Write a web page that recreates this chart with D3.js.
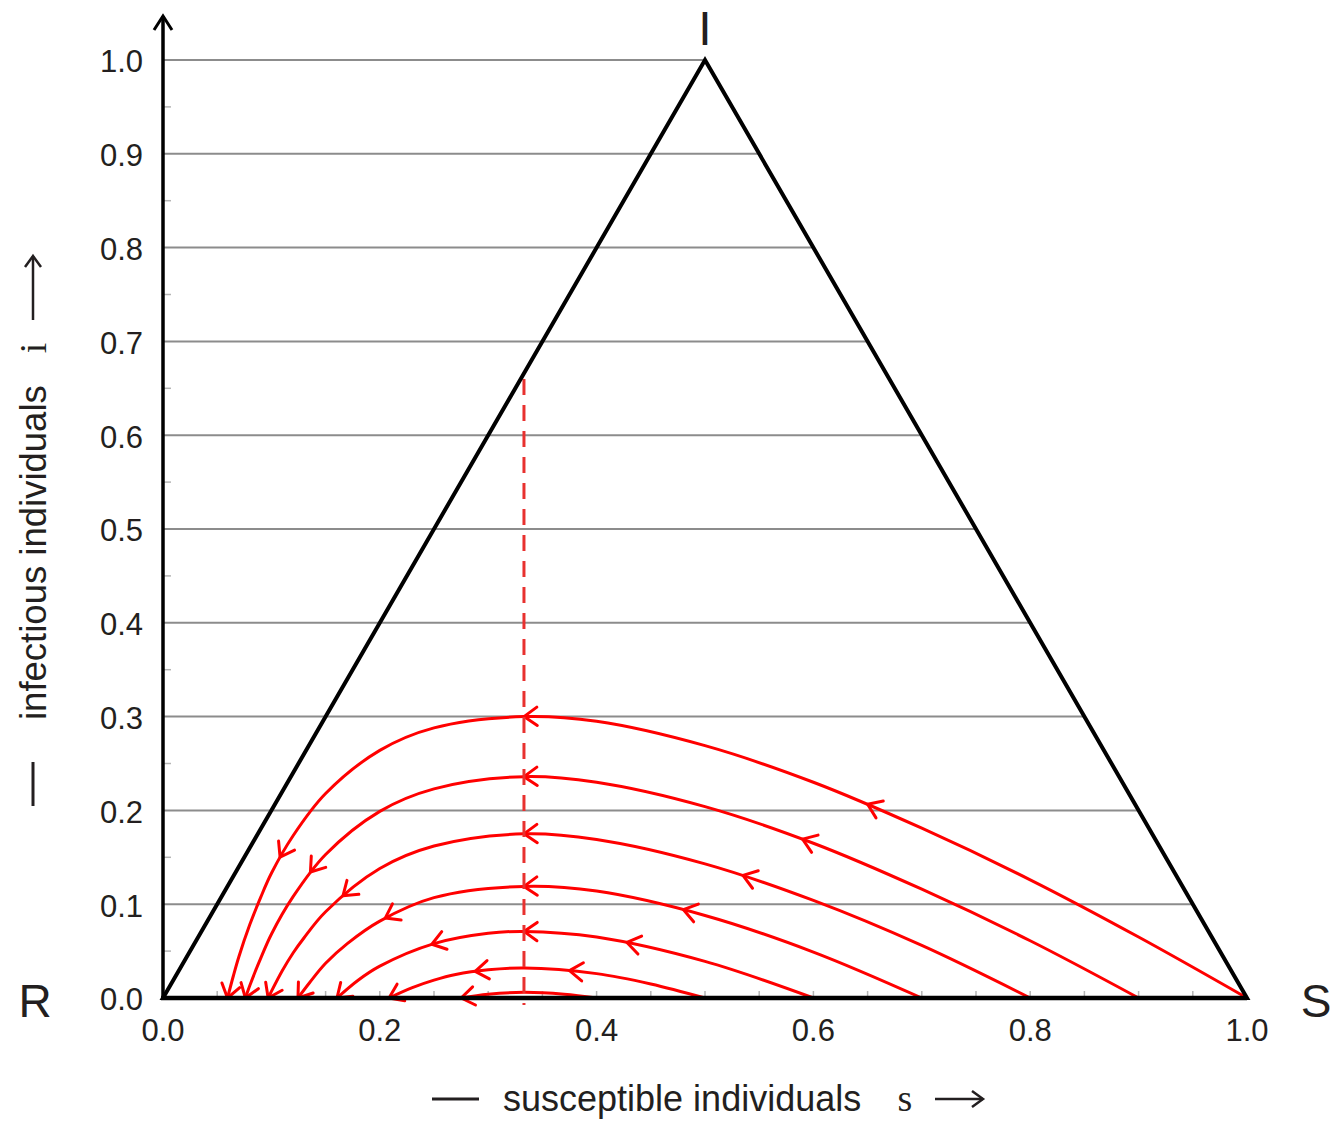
<!DOCTYPE html>
<html>
<head>
<meta charset="utf-8">
<script src="https://cdn.jsdelivr.net/npm/d3@7"></script>
<style>
body { margin: 0; background: #fff; }
text { font-family: "Liberation Sans", Arial, sans-serif; fill: #231f20; }
</style>
</head>
<body>
<div id="chart"></div>
<script>
// trajectories, points as [s, i], running from start to end
var curve10 = [[1.0,0],[0.9,0.065],[0.8,0.126],[0.7,0.181],[0.6,0.230],[0.5,0.269],[0.4,0.295],[0.333,0.300],[0.25,0.288],[0.2,0.264],[0.15,0.218],[0.12,0.173],[0.1,0.133],[0.09,0.107],[0.08,0.078],[0.07,0.044],[0.065,0.024],[0.0595,0]];
var curve09 = [[0.9,0],[0.8,0.061],[0.7,0.116],[0.6,0.165],[0.5,0.204],[0.4,0.230],[0.333,0.236],[0.25,0.223],[0.2,0.199],[0.15,0.153],[0.12,0.108],[0.1,0.068],[0.09,0.042],[0.085,0.028],[0.08,0.013],[0.076,0]];
var curve08 = [[0.8,0],[0.7,0.056],[0.6,0.104],[0.5,0.143],[0.4,0.169],[0.333,0.175],[0.25,0.162],[0.2,0.138],[0.15,0.092],[0.13,0.064],[0.12,0.048],[0.11,0.029],[0.1,0.007],[0.097,0]];
var curve07 = [[0.7,0],[0.6,0.049],[0.5,0.088],[0.4,0.114],[0.333,0.119],[0.25,0.107],[0.2,0.082],[0.17,0.058],[0.15,0.037],[0.135,0.016],[0.1245,0]];
var curve06 = [[0.6,0],[0.5,0.039],[0.4,0.065],[0.333,0.071],[0.3,0.069],[0.25,0.058],[0.2,0.034],[0.18,0.019],[0.1605,0]];
var curve05 = [[0.5,0],[0.45,0.015],[0.4,0.026],[0.333,0.032],[0.3,0.030],[0.27,0.025],[0.25,0.019],[0.23,0.011],[0.2085,0]];
var curve04 = [[0.4,0],[0.37,0.004],[0.333,0.006],[0.3,0.004],[0.275,0]];
var trajectories = [curve10, curve09, curve08, curve07, curve06, curve05, curve04];

// s positions of the arrow heads on each trajectory
var arrows10 = [0.65, 0.333, 0.108, 0.0595];
var arrows09 = [0.59, 0.333, 0.136, 0.076];
var arrows08 = [0.535, 0.333, 0.166, 0.097];
var arrows07 = [0.48, 0.333, 0.205, 0.1245];
var arrows06 = [0.428, 0.333, 0.248, 0.1605];
var arrows05 = [0.375, 0.288, 0.2085];
var arrows04 = [0.275];
var arrowSets = [arrows10, arrows09, arrows08, arrows07, arrows06, arrows05, arrows04];

var threshold = 0.333;   // s where every i peaks
var thresholdTop = 0.66;

var yTicks = [0.0, 0.1, 0.2, 0.3, 0.4, 0.5, 0.6, 0.7, 0.8, 0.9, 1.0];
var xTicks = [0.0, 0.2, 0.4, 0.6, 0.8, 1.0];
var yMinor = [0.05, 0.15, 0.25, 0.35, 0.45, 0.55, 0.65, 0.75, 0.85, 0.95];
var xMinor = [0.05, 0.1, 0.15, 0.2, 0.25, 0.3, 0.35, 0.4, 0.45, 0.5, 0.55, 0.6, 0.65, 0.7, 0.75, 0.8, 0.85, 0.9, 0.95];

var width = 1337,
    height = 1121;

var svg = d3.select("#chart").append("svg")
    .attr("width", width)
    .attr("height", height);

var x = d3.scaleLinear().domain([0, 1]).range([163, 1247]);
var y = d3.scaleLinear().domain([0, 1]).range([998, 60]);

// grid lines stop at the right side of the triangle
svg.append("g").selectAll("line")
    .data(yTicks.filter(function(d) { return d > 0; }))
  .enter().append("line")
    .attr("x1", x(0))
    .attr("x2", function(d) { return x(1 - d / 2); })
    .attr("y1", function(d) { return y(d); })
    .attr("y2", function(d) { return y(d); })
    .attr("stroke", "#8c8c8c")
    .attr("stroke-width", 2);

// small ticks
svg.append("g").selectAll("line")
    .data(yMinor)
  .enter().append("line")
    .attr("x1", x(0)).attr("x2", x(0) + 8)
    .attr("y1", function(d) { return y(d); })
    .attr("y2", function(d) { return y(d); })
    .attr("stroke", "#b5b5b5")
    .attr("stroke-width", 1.5);

svg.append("g").selectAll("line")
    .data(xMinor)
  .enter().append("line")
    .attr("x1", function(d) { return x(d); })
    .attr("x2", function(d) { return x(d); })
    .attr("y1", y(0)).attr("y2", y(0) - 7)
    .attr("stroke", "#b5b5b5")
    .attr("stroke-width", 1.5);

// trajectories
var line = d3.line()
    .x(function(d) { return x(d[0]); })
    .y(function(d) { return y(d[1]); })
    .curve(d3.curveCatmullRom.alpha(0.5));

var paths = svg.append("g").selectAll("path")
    .data(trajectories)
  .enter().append("path")
    .attr("d", line)
    .attr("fill", "none")
    .attr("stroke", "#ff0000")
    .attr("stroke-width", 3);

// arrow heads: find the point on the path whose x matches s, point along the path
function arrowAt(node, s) {
  var total = node.getTotalLength();
  var target = x(s), lo = 0, hi = total;
  for (var k = 0; k < 40; k++) {
    var mid = (lo + hi) / 2;
    if (node.getPointAtLength(mid).x > target) lo = mid; else hi = mid;
  }
  var l = Math.min((lo + hi) / 2, total);
  var tip = node.getPointAtLength(l);
  var prev = node.getPointAtLength(Math.max(l - 4, 0));
  var dx = tip.x - prev.x, dy = tip.y - prev.y;
  var n = Math.sqrt(dx * dx + dy * dy);
  dx /= n; dy /= n;
  var a = 35 * Math.PI / 180, len = 16;
  var arms = [a, -a].map(function(t) {
    var bx = -dx, by = -dy;
    return [tip.x + len * (bx * Math.cos(t) - by * Math.sin(t)),
            tip.y + len * (bx * Math.sin(t) + by * Math.cos(t))];
  });
  return "M" + arms[0] + "L" + tip.x + "," + tip.y + "L" + arms[1];
}

var heads = svg.append("g");
paths.each(function(d, i) {
  var node = this;
  arrowSets[i].forEach(function(s) {
    heads.append("path")
      .attr("d", arrowAt(node, s))
      .attr("fill", "none")
      .attr("stroke", "#ff0000")
      .attr("stroke-width", 3)
      .attr("stroke-linecap", "round")
      .attr("stroke-linejoin", "round");
  });
});

// threshold line
svg.append("line")
    .attr("x1", x(threshold)).attr("x2", x(threshold))
    .attr("y1", y(thresholdTop)).attr("y2", y(0) + 7)
    .attr("stroke", "#e8312f")
    .attr("stroke-width", 3)
    .attr("stroke-dasharray", "16,10");

// triangle
svg.append("path")
    .attr("d", "M" + x(0) + "," + y(0) + "L" + x(0.5) + "," + y(1) + "L" + x(1) + "," + y(0) + "Z")
    .attr("fill", "none")
    .attr("stroke", "#000")
    .attr("stroke-width", 4)
    .attr("stroke-linejoin", "miter");

svg.append("line")
    .attr("x1", x(0) - 2).attr("x2", x(1))
    .attr("y1", y(0)).attr("y2", y(0))
    .attr("stroke", "#000")
    .attr("stroke-width", 4.5);

// i axis with arrow
svg.append("line")
    .attr("x1", x(0)).attr("x2", x(0))
    .attr("y1", y(0)).attr("y2", 16)
    .attr("stroke", "#000")
    .attr("stroke-width", 3.5);
svg.append("path")
    .attr("d", "M" + (x(0) - 9) + ",30L" + x(0) + ",16L" + (x(0) + 9) + ",30")
    .attr("fill", "none")
    .attr("stroke", "#000")
    .attr("stroke-width", 3);

// tick labels
svg.append("g").selectAll("text")
    .data(yTicks)
  .enter().append("text")
    .attr("x", 143)
    .attr("y", function(d) { return y(d); })
    .attr("dy", "0.4em")
    .attr("text-anchor", "end")
    .attr("font-size", "31px")
    .text(function(d) { return d.toFixed(1); });

svg.append("g").selectAll("text")
    .data(xTicks)
  .enter().append("text")
    .attr("x", function(d) { return x(d); })
    .attr("y", 1041)
    .attr("text-anchor", "middle")
    .attr("font-size", "31px")
    .text(function(d) { return d.toFixed(1); });

// corner labels
var corners = [["R", 35, 1017], ["S", 1316, 1017], ["I", 705, 45]];
svg.append("g").selectAll("text")
    .data(corners)
  .enter().append("text")
    .attr("x", function(d) { return d[1]; })
    .attr("y", function(d) { return d[2]; })
    .attr("text-anchor", "middle")
    .attr("font-size", function(d) { return d[0] == "I" ? "48px" : "46px"; })
    .text(function(d) { return d[0]; });

// axis titles
function arrowLine(g, x1, x2, yy) {
  g.append("line").attr("x1", x1).attr("x2", x2).attr("y1", yy).attr("y2", yy)
    .attr("stroke", "#231f20").attr("stroke-width", 2.5);
  g.append("path")
    .attr("d", "M" + (x2 - 11) + "," + (yy - 8) + "L" + x2 + "," + yy + "L" + (x2 - 11) + "," + (yy + 8))
    .attr("fill", "none").attr("stroke", "#231f20").attr("stroke-width", 2.5);
}

var xt = svg.append("g");
xt.append("line").attr("x1", 432).attr("x2", 479).attr("y1", 1099).attr("y2", 1099)
    .attr("stroke", "#231f20").attr("stroke-width", 3);
xt.append("text").attr("x", 503).attr("y", 1111).attr("font-size", "36px")
    .text("susceptible individuals");
xt.append("text").attr("x", 905).attr("y", 1111).attr("text-anchor", "middle")
    .attr("font-size", "38px").style("font-family", "'Liberation Serif', 'Times New Roman', serif")
    .text("s");
arrowLine(xt, 935, 983, 1099);

// rotated title for i
var yt = svg.append("g").attr("transform", "translate(0,1121) rotate(-90)");
// in this frame: along = 1121 - page y, across = page x
yt.append("line").attr("x1", 1121 - 806).attr("x2", 1121 - 762).attr("y1", 33).attr("y2", 33)
    .attr("stroke", "#231f20").attr("stroke-width", 3);
yt.append("text").attr("x", 1121 - 720).attr("y", 46).attr("font-size", "36.5px")
    .text("infectious individuals");
yt.append("text").attr("x", 1121 - 348).attr("y", 46).attr("text-anchor", "middle")
    .attr("font-size", "38px").style("font-family", "'Liberation Serif', 'Times New Roman', serif")
    .text("i");
arrowLine(yt, 1121 - 320, 1121 - 256, 33);
</script>
</body>
</html>
